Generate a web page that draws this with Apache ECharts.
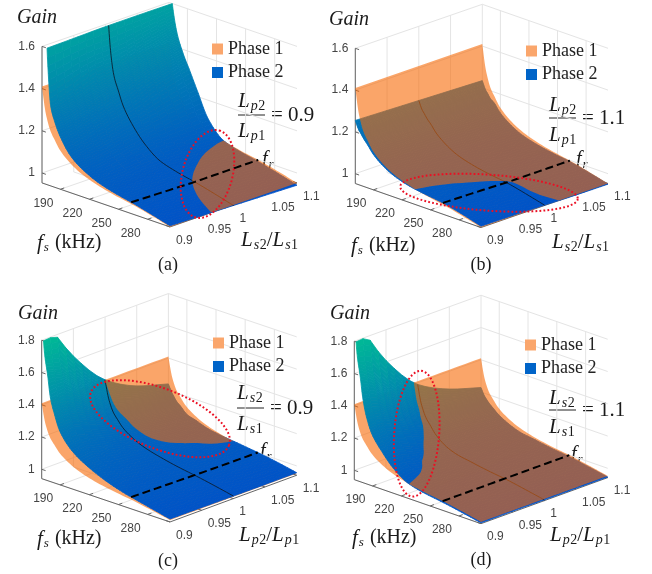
<!DOCTYPE html>
<html><head><meta charset="utf-8">
<style>html,body{margin:0;padding:0;background:#fff}#c{width:652px;height:574px;filter:blur(0.45px)}</style>
<script src="https://cdn.jsdelivr.net/npm/echarts@6/dist/echarts.min.js"></script>
</head><body><div id="c"></div>
<script>
// switching frequency samples (kHz) and inductance ratio samples
const FS_KHZ=[171,174,177,180,184,190,200,212,228,245,265,285,303];
const RATIO=[0.9,0.95,1,1.05,1.1];
// Phase 1 gain does not depend on the ratio
const GAIN_P1=[1.41,1.31,1.25,1.21,1.178,1.135,1.093,1.06,1.033,1.014,0.997,0.975,0.953];
// Phase 2 gain, one row per ratio
const GAIN_P2_A=[
[2.1,1.85,1.52,1.33,1.265,1.2,1.13,1.085,1.0482,1.0244,1.0045,0.981,0.9582],
[2.0,1.7,1.48,1.345,1.285,1.215,1.145,1.09,1.0442,1.0204,1.0005,0.977,0.9542],
[1.95,1.62,1.45,1.365,1.31,1.235,1.16,1.095,1.0402,1.0164,0.9965,0.973,0.9502],
[1.9,1.61,1.48,1.405,1.355,1.285,1.19,1.1,1.0362,1.0124,0.9925,0.969,0.9462],
[1.85,1.62,1.52,1.455,1.4,1.335,1.23,1.108,1.0322,1.0084,0.9885,0.965,0.9422]];
const GAIN_P2_B=[
[1.255,1.22,1.2,1.18,1.158,1.122,1.084,1.054,1.031,1.018,1.005,0.983,0.959],
[1.25,1.215,1.195,1.175,1.154,1.118,1.081,1.051,1.029,1.0145,1.002,0.981,0.958],
[1.245,1.21,1.19,1.17,1.15,1.115,1.078,1.048,1.026,1.011,0.9975,0.976,0.955],
[1.24,1.205,1.185,1.165,1.148,1.112,1.075,1.045,1.023,1.008,0.994,0.972,0.951],
[1.235,1.2,1.18,1.16,1.146,1.11,1.073,1.043,1.021,1.006,0.992,0.971,0.95]];
const GAIN_P2_C=[
[1.95,1.72,1.6,1.46,1.37,1.27,1.19,1.135,1.085,1.045,1.012,0.985,0.96],
[1.63,1.5,1.43,1.35,1.275,1.2,1.145,1.1,1.06,1.033,1.008,0.983,0.959],
[1.41,1.318,1.2595,1.2205,1.189,1.1465,1.105,1.0725,1.046,1.024,1.004,0.981,0.958],
[1.3,1.24,1.205,1.18,1.155,1.115,1.08,1.055,1.036,1.018,1.001,0.979,0.957],
[1.24,1.2,1.17,1.145,1.125,1.09,1.07,1.045,1.028,1.016,1.0,0.98,0.958]];
const GAIN_P2_D=[
[1.95,1.72,1.6,1.46,1.35,1.255,1.173,1.095,1.033,1.008,0.99,0.968,0.947],
[1.61,1.46,1.38,1.31,1.255,1.18,1.109,1.057,1.025,1.007,0.99,0.969,0.948],
[1.39,1.295,1.238,1.198,1.165,1.117,1.069,1.04,1.023,1.006,0.99,0.968,0.947],
[1.29,1.23,1.195,1.17,1.145,1.105,1.066,1.038,1.021,1.004,0.988,0.967,0.947],
[1.228,1.19,1.165,1.145,1.125,1.095,1.062,1.035,1.02,1.003,0.987,0.966,0.946]];
const FS_TICKS=[190,220,250,280];
const RATIO_TICKS=[0.9,0.95,1,1.05,1.1];
const RATIO_LABELS=['0.9','0.95','1','1.05','1.1'];
const GAIN_TICKS_AB=[1,1.2,1.4,1.6];
const GAIN_TICKS_CD=[1,1.2,1.4,1.6,1.8];
const RESONANT_FS=263;
const SERIES_NAMES=['Phase 1','Phase 2'];

const COL_LIGHT='rgb(250,166,108)', COL_ORANGE='rgb(247,105,5)', COL_BLUE='rgb(0,100,200)';
const panels=[
 {tag:'(a)',ox:0,oy:0,lx:42,ly:173,fv:[128,44],rv:[127,-44],gs:211,zmin:0.953,zmax:1.6,ticks:GAIN_TICKS_AB,tbl:GAIN_P2_A,ell:[207.5,174,45,25,-75]},
 {tag:'(b)',ox:326,oy:0,lx:29.3,ly:173.7,fv:[125.7,44],rv:[127,-44],gs:209,zmin:0.953,zmax:1.6,ticks:GAIN_TICKS_AB,tbl:GAIN_P2_B,ell:[163,192.7,89,18,4]},
 {tag:'(c)',ox:0,oy:287,lx:41.7,ly:182.3,fv:[128.3,43.3],rv:[126.7,-46.7],gs:161.3,zmin:0.942,zmax:1.8,ticks:GAIN_TICKS_CD,tbl:GAIN_P2_C,ell:[160,131.7,74,30,21]},
 {tag:'(d)',ox:326,oy:287,lx:28.3,ly:183.3,fv:[126.7,44],rv:[126.7,-46],gs:161.3,zmin:0.942,zmax:1.8,ticks:GAIN_TICKS_CD,tbl:GAIN_P2_D,ell:[90.7,146.7,63,22.5,-86]}
];
panels.forEach(p=>{p.diff=p.tbl.map(row=>row.map((g,i)=>g-GAIN_P1[i]));});
const N=FS_KHZ.length-1, M=RATIO.length-1;
function cr(a,b,c,d,u){return 0.5*(2*b+(c-a)*u+(2*a-5*b+4*c-d)*u*u+(3*b-a-3*c+d)*u*u*u);}
function spline(arr,t){
  const n=arr.length-1; let i=Math.min(Math.floor(t),n-1); if(i<0)i=0; const u=t-i;
  const a=i>0?arr[i-1]:2*arr[0]-arr[1], d=i+2<=n?arr[i+2]:2*arr[n]-arr[n-1];
  return cr(a,arr[i],arr[i+1],d,u);
}
function mono(arr,t){ // shape-preserving cubic between samples
  const n=arr.length-1; let i=Math.min(Math.floor(t),n-1); if(i<0)i=0; const u=t-i;
  const tan=k=>{
    if(k===0) return arr[1]-arr[0]; if(k===n) return arr[n]-arr[n-1];
    const a=arr[k]-arr[k-1],b=arr[k+1]-arr[k]; return a*b<=0?0:2*a*b/(a+b);
  };
  const p0=arr[i],p1=arr[i+1],m0=tan(i),m1=tan(i+1),u2=u*u,u3=u2*u;
  return (2*u3-3*u2+1)*p0+(u3-2*u2+u)*m0+(-2*u3+3*u2)*p1+(u3-u2)*m1;
}
const fsAt=t=>spline(FS_KHZ,t), g1At=t=>spline(GAIN_P1,t);
function d2At(p,t,s){ return mono(p.diff.map(row=>mono(row,t)),s); }
function g2At(p,t,s){ return g1At(t)+d2At(p,t,s); }
const ratioAt=s=>RATIO[0]+(RATIO[M]-RATIO[0])*s/M;
function proj(p,fs,r,g){
  const a=(fs-FS_KHZ[0])/(FS_KHZ[N]-FS_KHZ[0]), b=(r-RATIO[0])/(RATIO[M]-RATIO[0]);
  return [p.lx+a*p.fv[0]+b*p.rv[0], p.ly+a*p.fv[1]+b*p.rv[1]-(g-1)*p.gs];
}
function tStart(p,s){
  if(g2At(p,0,s)<=p.zmax) return 0;
  let lo=0,hi=N; for(let k=0;k<30;k++){const m=(lo+hi)/2; if(g2At(p,m,s)>p.zmax)lo=m; else hi=m;} return hi;
}
function blueColor(g){
  const u=Math.max(0,Math.min(1,(g-0.95)/0.85));
  return 'rgb(0,'+Math.round(82+103*u)+','+Math.round(200-50*u)+')';
}
const NT=72,NS=16;
function clipPoly(pts,sgn){
  const out=[];
  for(let i=0;i<pts.length;i++){
    const a=pts[i],b=pts[(i+1)%pts.length],da=a[2]*sgn,db=b[2]*sgn;
    if(da>=0) out.push(a);
    if((da>=0)!==(db>=0)){const k=da/(da-db); out.push([a[0]+(b[0]-a[0])*k,a[1]+(b[1]-a[1])*k,0]);}
  }
  return out;
}
function orangePath(p,api,sgn){
  let d='';
  const grid=[];
  for(let i=0;i<=NT;i++){const t=N*i/NT,row=[];const fs=fsAt(t),g1=g1At(t);
    for(let j=0;j<=NS;j++){const s=M*j/NS;const q=api.coord(proj(p,fs,ratioAt(s),g1));row.push([q[0],q[1],-d2At(p,t,s)]);}
    grid.push(row);}
  for(let i=0;i<NT;i++)for(let j=0;j<NS;j++){
    const poly=clipPoly([grid[i][j],grid[i+1][j],grid[i+1][j+1],grid[i][j+1]],sgn);
    if(poly.length<3)continue;
    d+='M'+poly.map(q=>q[0].toFixed(2)+' '+q[1].toFixed(2)).join('L')+'Z';
  }
  return {type:'path',shape:{pathData:d},style:{fill:COL_ORANGE,opacity:0.6}};
}
function blueCells(p,api){
  const starts=[];for(let j=0;j<=NS;j++)starts.push(tStart(p,M*j/NS));
  const pt=(i,j)=>{const t=starts[j]+(N-starts[j])*i/NT,s=M*j/NS,g=g2At(p,t,s);return {q:api.coord(proj(p,fsAt(t),ratioAt(s),g)),g};};
  const grid=[];for(let i=0;i<=NT;i++){const r=[];for(let j=0;j<=NS;j++)r.push(pt(i,j));grid.push(r);}
  const ch=[];
  for(let i=0;i<NT;i++)for(let j=NS-1;j>=0;j--){
    const a=grid[i][j],b=grid[i+1][j],c=grid[i+1][j+1],e=grid[i][j+1];
    const col=blueColor((a.g+b.g+c.g+e.g)/4);
    ch.push({type:'polygon',shape:{points:[a.q,b.q,c.q,e.q]},style:{fill:col,stroke:col,lineWidth:0.8}});
  }
  return {type:'group',children:ch};
}
function frame(p,api){
  const ch=[],GRID='#e4e4e4',AX='#666';
  const f0=FS_KHZ[0],f1=FS_KHZ[N],r0=RATIO[0],r1=RATIO[M];
  const seg=(A,B,col,w)=>{const a=api.coord(A),b=api.coord(B);ch.push({type:'line',shape:{x1:a[0],y1:a[1],x2:b[0],y2:b[1]},style:{stroke:col,lineWidth:w||1}});};
  const txt=(P,str,align)=>{const a=api.coord(P);ch.push({type:'text',style:{x:a[0],y:a[1],text:str,fill:'#444',fontSize:12,fontFamily:'"Liberation Sans",Arial,sans-serif',align:align,verticalAlign:'middle',textAlign:align,textVerticalAlign:'middle'}});};
  p.ticks.forEach(g=>{seg(proj(p,f0,r0,g),proj(p,f0,r1,g),GRID);seg(proj(p,f0,r1,g),proj(p,f1,r1,g),GRID);});
  RATIO_TICKS.forEach(r=>{seg(proj(p,f0,r,p.zmin),proj(p,f0,r,p.zmax),GRID);seg(proj(p,f0,r,p.zmin),proj(p,f1,r,p.zmin),GRID);});
  FS_TICKS.forEach(f=>{seg(proj(p,f,r1,p.zmin),proj(p,f,r1,p.zmax),GRID);seg(proj(p,f,r0,p.zmin),proj(p,f,r1,p.zmin),GRID);});
  seg(proj(p,f0,r0,p.zmin),proj(p,f0,r0,p.zmax),AX);
  seg(proj(p,f0,r0,p.zmin),proj(p,f1,r0,p.zmin),AX);
  seg(proj(p,f1,r0,p.zmin),proj(p,f1,r1,p.zmin),AX);
  p.ticks.forEach(g=>{const A=proj(p,f0,r0,g);seg(A,proj(p,f0+4,r0,g),AX);txt([A[0]-7,A[1]],String(g===1?'1':g.toFixed(1)),'right');});
  FS_TICKS.forEach(f=>{const A=proj(p,f,r0,p.zmin);seg(A,proj(p,f,r0+0.006,p.zmin),AX);txt([A[0]-7,A[1]+14],String(f),'right');});
  RATIO_TICKS.forEach((r,i)=>{const A=proj(p,f1,r,p.zmin);seg(A,proj(p,f1-4,r,p.zmin),AX);txt([A[0]+6,A[1]+13.5],RATIO_LABELS[i],'left');});
  return {type:'group',children:ch};
}
function ellipse(p,api){
  const [cx,cy,a,b,deg]=p.ell,ang=deg*Math.PI/180,pts=[];
  for(let k=0;k<=96;k++){const u=k/96*2*Math.PI,x=a*Math.cos(u),y=b*Math.sin(u);
    pts.push(api.coord([cx+x*Math.cos(ang)-y*Math.sin(ang),cy+x*Math.sin(ang)+y*Math.cos(ang)]));}
  return {type:'polyline',shape:{points:pts},style:{fill:'none',stroke:'rgb(235,15,35)',lineWidth:2,lineDash:[1.8,2.2]}};
}
function once(fn){return (params,api)=>params.dataIndex===0?fn(api):null;}
const grids=[],xAxes=[],yAxes=[],series=[],legends=[];
const legendPos=[[212,40],[526,42],[213,334],[525,336]];
panels.forEach((p,i)=>{
  grids.push({left:p.ox,top:p.oy,width:326,height:287,show:false});
  xAxes.push({type:'value',gridIndex:i,min:0,max:326,show:false});
  yAxes.push({type:'value',gridIndex:i,min:0,max:287,inverse:true,show:false});
  const ax={xAxisIndex:i,yAxisIndex:i,coordinateSystem:'cartesian2d',silent:true,animation:false,clip:false};
  const triples=[],p1triples=[];
  p.tbl.forEach((row,j)=>row.forEach((g,k)=>{triples.push([FS_KHZ[k],RATIO[j],g]);p1triples.push([FS_KHZ[k],RATIO[j],GAIN_P1[k]]);}));
  series.push(Object.assign({type:'custom',z:1,name:'frame',data:[[0,0]],renderItem:once(api=>frame(p,api))},ax));
  series.push(Object.assign({type:'custom',z:2,name:'Phase 1',data:p1triples,itemStyle:{color:COL_LIGHT},renderItem:once(api=>orangePath(p,api,-1))},ax));
  series.push(Object.assign({type:'custom',z:3,name:'Phase 2',data:triples,itemStyle:{color:COL_BLUE},renderItem:once(api=>blueCells(p,api))},ax));
  const curve=[],st=tStart(p,2);
  for(let k=0;k<=120;k++){const t=st+(N-st)*k/120;curve.push(proj(p,fsAt(t),1,g2At(p,t,2)));}
  series.push(Object.assign({type:'line',z:4,name:'r1',data:curve,showSymbol:false,symbol:'none',lineStyle:{color:'#0b1a2a',width:1,opacity:0.85}},ax));
  series.push(Object.assign({type:'custom',z:5,name:'Phase 1',data:p1triples,itemStyle:{color:COL_LIGHT},renderItem:once(api=>orangePath(p,api,1))},ax));
  let lo=0,hi=N;for(let k=0;k<30;k++){const m=(lo+hi)/2;if(fsAt(m)<RESONANT_FS)lo=m;else hi=m;}
  const dash=[];for(let k=0;k<=40;k++){const s=M*k/40;dash.push(proj(p,RESONANT_FS,ratioAt(s),Math.max(g1At(lo),g2At(p,lo,s))));}
  series.push(Object.assign({type:'line',z:6,name:'fr',data:dash,showSymbol:false,symbol:'none',lineStyle:{color:'#000',width:2,type:[8,4]}},ax));
  series.push(Object.assign({type:'custom',z:7,name:'zone',data:[[0,0]],renderItem:once(api=>ellipse(p,api))},ax));
  legends.push({data:SERIES_NAMES,left:legendPos[i][0],top:legendPos[i][1],orient:'vertical',itemWidth:11,itemHeight:11,itemGap:5.5,selectedMode:false,icon:'rect',textStyle:{fontFamily:'"Liberation Serif",serif',fontSize:18,color:'#222'},padding:0});
});
const meas=document.createElement('canvas').getContext('2d');
const SERIF='"Liberation Serif","Times New Roman",serif';
const graphics=[];
function run(x,y,parts){
  parts.forEach(pt=>{
    const size=pt.s||20,style=pt.i?'italic':'normal',dy=pt.d||0;
    graphics.push({type:'text',x:x,y:y+dy,silent:true,style:{text:pt.t,fontSize:size,fontStyle:style,fontFamily:SERIF,fill:'#1a1a1a',align:'left',verticalAlign:'middle',textAlign:'left',textVerticalAlign:'middle'}});
    meas.font=style+' '+size+'px '+SERIF; x+=meas.measureText(pt.t).width+(pt.k||0);
  });
}
const sub=(a,b)=>[{t:'L',i:1,s:21,k:1},{t:a,i:1,s:14,d:5,k:0.5},{t:b,s:14,d:5}];
function ratioLabel(x,y,ch){run(x,y,[...sub(ch,'2'),{t:'/',s:21},...sub(ch,'1')]);}
function fraction(cx,yn,yl,yd,ch,text){
  run(cx-14,yn-2,sub(ch,'2')); run(cx-14,yd,sub(ch,'1'));
  graphics.push({type:'line',silent:true,shape:{x1:cx-14,y1:yl,x2:cx+13,y2:yl},style:{stroke:'#222',lineWidth:1}});
  run(cx+19,yl,[{t:text,s:21}]);
}
function fsLabel(x,y){run(x,y,[{t:'f',i:1,s:21,k:1},{t:'s',i:1,s:13,d:5,k:1},{t:' (kHz)',s:20}]);}
function frLabel(x,y){run(x,y,[{t:'f',i:1,s:20,k:1},{t:'r',i:1,s:13,d:5}]);}
function gainLabel(x,y){run(x,y,[{t:'Gain',i:1,s:20}]);}
function tagLabel(cx,y,t){graphics.push({type:'text',x:cx,y:y,silent:true,style:{text:t,fontSize:18,fontFamily:SERIF,fill:'#1a1a1a',align:'center',verticalAlign:'middle',textAlign:'center',textVerticalAlign:'middle'}});}
gainLabel(17,18);gainLabel(329,20);gainLabel(18,314);gainLabel(330,314);
tagLabel(168,265,'(a)');tagLabel(481,265,'(b)');tagLabel(168,561,'(c)');tagLabel(481,560,'(d)');
fsLabel(37,243);fsLabel(351,246);fsLabel(37,539);fsLabel(352,538);
ratioLabel(241,240,'s');ratioLabel(552,242,'s');ratioLabel(239,535,'p');ratioLabel(550,535,'p');
fraction(252,103,115,131,'p','= 0.9');fraction(563,107,118,135,'p','= 1.1');
fraction(251,395,408,424,'s','= 0.9');fraction(563,400,410,427,'s','= 1.1');
frLabel(262,160);frLabel(576,160);frLabel(260,452);frLabel(571,455);

const chart=echarts.init(document.getElementById('c'),null,{renderer:'canvas',width:652,height:574});
chart.setOption({animation:false,backgroundColor:'#fff',grid:grids,xAxis:xAxes,yAxis:yAxes,legend:legends,series:series,graphic:graphics});
</script></body></html>
